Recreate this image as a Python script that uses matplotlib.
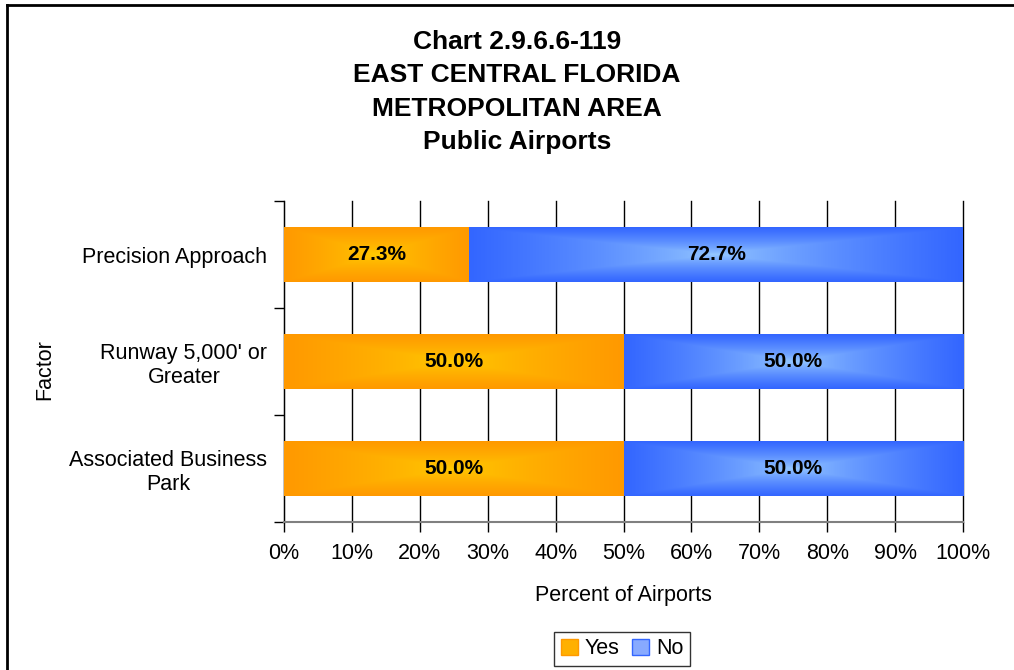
import matplotlib.pyplot as plt
import numpy as np
from matplotlib.colors import LinearSegmentedColormap
from matplotlib.patches import Patch
from matplotlib.lines import Line2D

plt.rcParams['font.family'] = ['Liberation Sans', 'DejaVu Sans']

# bottom to top
factors = ['Associated Business\nPark', "Runway 5,000' or\nGreater", 'Precision Approach']
yes_pct = [50.0, 50.0, 27.3]
no_pct = [50.0, 50.0, 72.7]
title_lines = ['Chart 2.9.6.6-119', 'EAST CENTRAL FLORIDA', 'METROPOLITAN AREA', 'Public Airports']

yes_cmap = LinearSegmentedColormap.from_list('yes', ['#FFCC00', '#FF9900'])
no_cmap = LinearSegmentedColormap.from_list('no', ['#99CCFF', '#3366FF'])


def gradient_fill(ax, patch, cmap):
    x0, y0 = patch.get_x(), patch.get_y()
    w, h = patch.get_width(), patch.get_height()
    xs = np.linspace(-1, 1, 300)
    ys = np.linspace(-1, 1, 60)
    X, Y = np.meshgrid(xs, ys)
    # rectangular "from centre" gradient
    t = np.maximum(np.abs(X), np.abs(Y))
    t = np.clip(t, 0, 1) ** 0.7
    im = ax.imshow(t, cmap=cmap, vmin=0, vmax=1, extent=[x0, x0 + w, y0, y0 + h],
                   aspect='auto', interpolation='bilinear', zorder=3)
    im.set_clip_path(patch)


fig = plt.figure(figsize=(10.14, 6.7), dpi=100)
ax = fig.add_axes([284 / 1014, 1 - 522 / 670, 679 / 1014, 321 / 670])

ypos = np.arange(len(factors))
bh = 0.51
yes_bars = ax.barh(ypos, yes_pct, height=bh, facecolor='none', edgecolor='none', zorder=3)
no_bars = ax.barh(ypos, no_pct, left=yes_pct, height=bh, facecolor='none', edgecolor='none', zorder=3)

for b in yes_bars:
    gradient_fill(ax, b, yes_cmap)
for b in no_bars:
    gradient_fill(ax, b, no_cmap)

for i in range(len(factors)):
    ax.text(yes_pct[i] / 2, ypos[i], f'{yes_pct[i]:.1f}%', ha='center', va='center',
            fontsize=15, fontweight='bold', zorder=5)
    ax.text(yes_pct[i] + no_pct[i] / 2, ypos[i], f'{no_pct[i]:.1f}%', ha='center', va='center',
            fontsize=15, fontweight='bold', zorder=5)

ax.set_xlim(0, 100)
ax.set_ylim(-0.5, len(factors) - 0.5)
ax.set_xticks(np.arange(0, 101, 10))
ax.set_xticklabels([f'{v}%' for v in range(0, 101, 10)], fontsize=15.5)
ax.set_yticks(ypos)
ax.set_yticklabels(factors, fontsize=15.5, ha='right', multialignment='center')
ax.tick_params(axis='y', which='major', length=0, pad=12)
ax.set_yticks(np.arange(-0.5, len(factors), 1), minor=True)
ax.tick_params(axis='y', which='minor', length=7, width=1, color='black')
ax.tick_params(axis='x', length=7, width=1, color='black', pad=8)
ax.grid(axis='x', color='black', linewidth=1, zorder=1)
for gl in ax.get_xgridlines():
    gl.set_clip_on(False)
ax.set_axisbelow(True)

for s in ['top', 'right']:
    ax.spines[s].set_visible(False)
ax.spines['left'].set_color('black')
ax.spines['bottom'].set_color('#808080')
ax.spines['bottom'].set_linewidth(1.5)

ax.set_xlabel('Percent of Airports', fontsize=15.5, labelpad=15)
fig.text(45 / 1014, 1 - 370 / 670, 'Factor', rotation=90, fontsize=15.5, ha='center', va='center')

for i, line in enumerate(title_lines):
    fig.text(517 / 1014, 1 - (42 + i * 33.5) / 670, line, fontsize=19, fontweight='bold',
             ha='center', va='center')

handles = [Patch(facecolor='#FFB000', edgecolor='#FF9900', label='Yes'),
           Patch(facecolor='#88AAFF', edgecolor='#3366FF', label='No')]
leg = fig.legend(handles=handles, loc='center', bbox_to_anchor=(622 / 1014, 1 - 649 / 670),
                 ncol=2, fontsize=15.5, frameon=True, fancybox=False, edgecolor='black',
                 handlelength=0.8, handleheight=0.8, handletextpad=0.3, columnspacing=0.6,
                 borderpad=0.3, borderaxespad=0)
leg.get_frame().set_linewidth(1)

# outer chart border (extends beyond the right and bottom of the image)
fig.add_artist(Line2D([7 / 1014, 1], [1 - 5 / 670, 1 - 5 / 670], color='black', linewidth=2))
fig.add_artist(Line2D([7 / 1014, 7 / 1014], [0, 1 - 5 / 670], color='black', linewidth=2))

fig.savefig('out.png', dpi=100)
